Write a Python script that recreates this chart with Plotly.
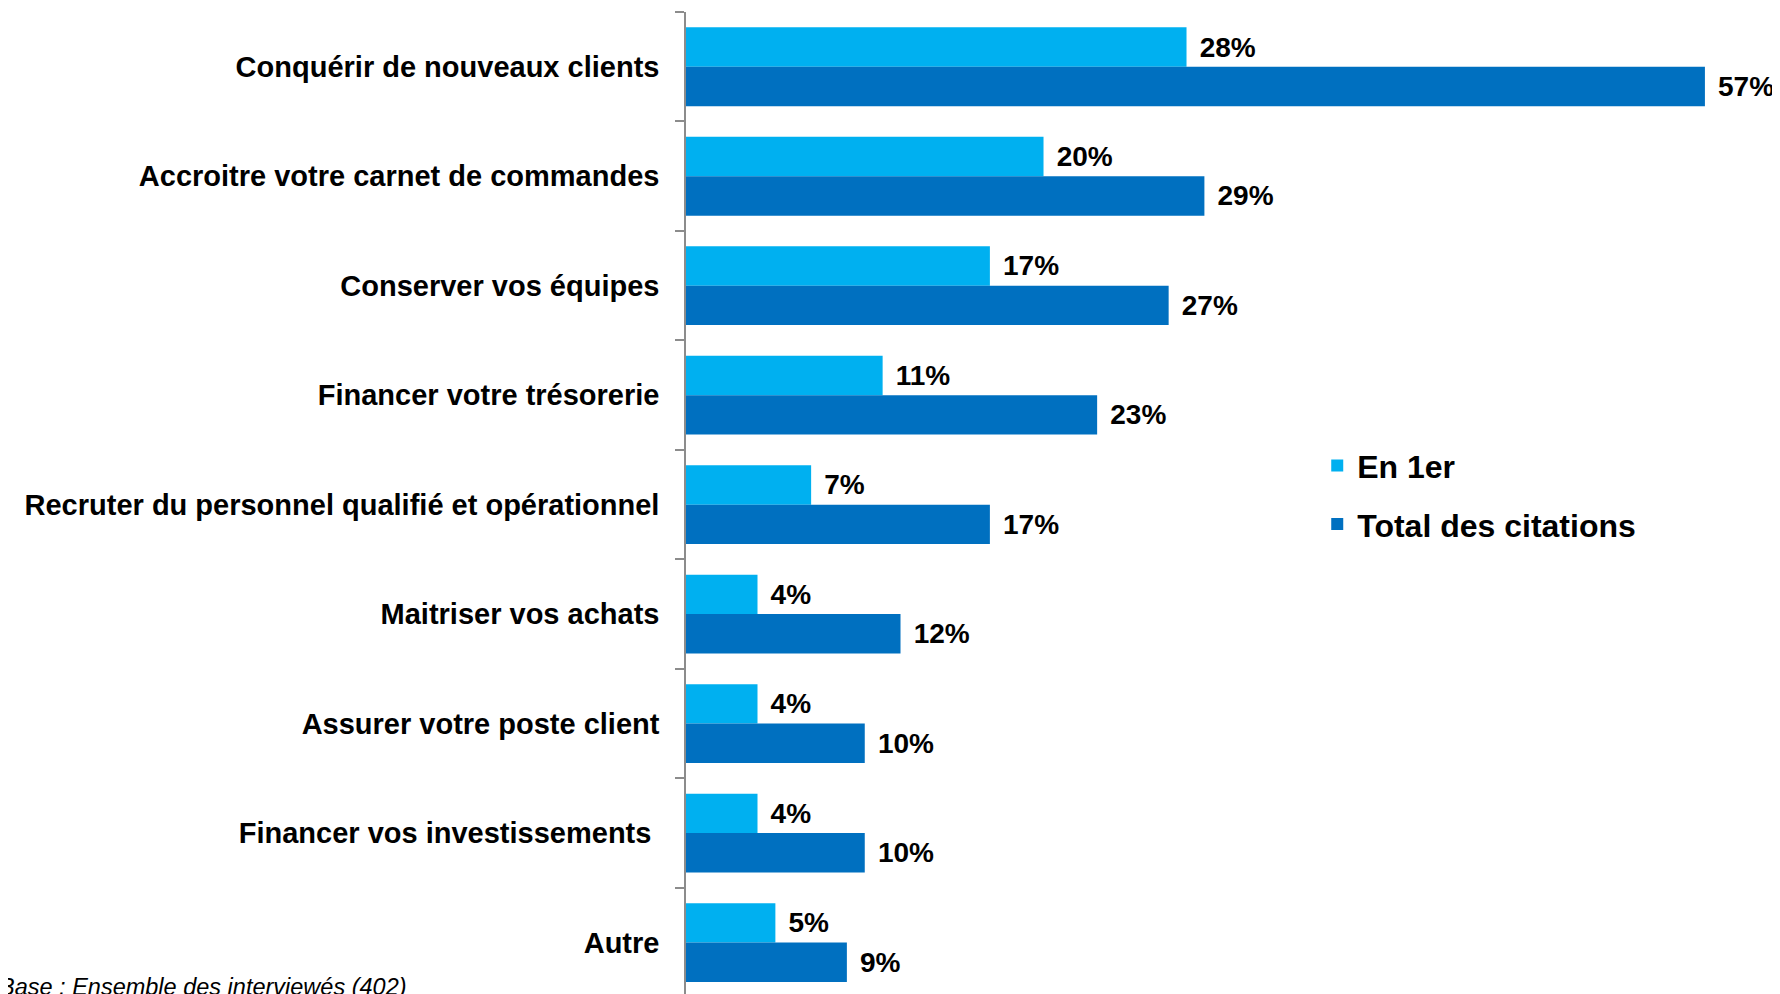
import plotly.graph_objects as go

categories = [
    "Conquérir de nouveaux clients",
    "Accroitre votre carnet de commandes",
    "Conserver vos équipes",
    "Financer votre trésorerie",
    "Recruter du personnel qualifié et opérationnel",
    "Maitriser vos achats",
    "Assurer votre poste client",
    "Financer vos investissements ",
    "Autre",
]
en_1er = [28, 20, 17, 11, 7, 4, 4, 4, 5]
total_citations = [57, 29, 27, 23, 17, 12, 10, 10, 9]

LIGHT = "#00B0F0"
DARK = "#0070C0"
FONT = "Liberation Sans, Arial, sans-serif"

fig = go.Figure()
for name, vals, color, grp in [("En 1er", en_1er, LIGHT, "a"),
                               ("Total des citations", total_citations, DARK, "b")]:
    fig.add_trace(go.Bar(
        y=categories, x=vals, name=name, orientation="h",
        marker=dict(color=color, line=dict(width=0)),
        text=[f"\u00a0\u200a{v}%" for v in vals], textposition="outside",
        textfont=dict(family=FONT, size=28, color="black", weight="bold"),
        constraintext="none", cliponaxis=False, legendgroup=grp,
    ))

fig.update_layout(
    width=1772, height=986,
    margin=dict(l=678, r=0, t=4, b=0),
    paper_bgcolor="white", plot_bgcolor="white",
    barmode="group", bargap=0.28, bargroupgap=0,
    xaxis=dict(range=[0, 61.2], visible=False, showgrid=False),
    yaxis=dict(
        categoryorder="array", categoryarray=categories,
        range=[8.47, -0.5],
        showline=True, linecolor="#8C8C8C", linewidth=1.5,
        ticks="outside", tickson="boundaries", ticklen=9, tickcolor="#8C8C8C", tickwidth=1.5,
        ticklabelstandoff=19,
        tickfont=dict(family=FONT, size=29, color="black", weight="bold"),
        showgrid=False,
    ),
    legend=dict(
        x=0.577, y=0.566, xanchor="left", yanchor="top",
        font=dict(family=FONT, size=32, color="black", weight="bold"),
        traceorder="grouped", tracegroupgap=14, bgcolor="rgba(0,0,0,0)",
    ),
    annotations=[dict(
        text="<i>Base : Ensemble des interviewés (402)</i>",
        xref="paper", yref="paper", x=-0.6296, y=0.0074, xanchor="left", yanchor="middle",
        showarrow=False, font=dict(family=FONT, size=23.5, color="black"),
    )],
)

fig.write_html("out.html")
